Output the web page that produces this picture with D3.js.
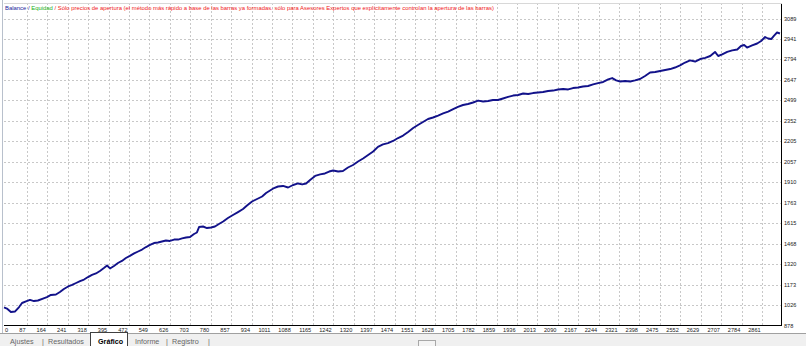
<!DOCTYPE html>
<html>
<head>
<meta charset="utf-8">
<script src="https://cdn.jsdelivr.net/npm/d3@7/dist/d3.min.js"></script>
<style>
  html, body { margin: 0; padding: 0; background: #ffffff; }
  svg { display: block; }
</style>
</head>
<body>
<svg id="chart" width="806" height="346"></svg>
<script>
// ---- data ----
const tradeIdx = [0,11,26,42,57,68,83,98,113,128,147,162,177,196,211,226,242,257,272,287,302,317,332,347,362,377,389,400,415,430,445,460,475,491,506,521,536,551,566,581,596,611,626,642,657,672,687,702,717,728,736,751,766,781,796,811,827,845,864,883,902,917,936,955,974,989,1004,1019,1034,1053,1072,1091,1110,1125,1140,1155,1174,1193,1211,1227,1242,1261,1279,1298,1317,1336,1355,1374,1393,1411,1430,1449,1468,1487,1506,1525,1544,1562,1581,1600,1619,1638,1657,1676,1695,1713,1732,1751,1770,1789,1808,1827,1845,1864,1883,1902,1921,1940,1959,1978,1996,2015,2034,2053,2072,2091,2110,2129,2147,2166,2185,2204,2223,2242,2261,2280,2295,2310,2325,2344,2363,2381,2400,2419,2438,2457,2476,2495,2514,2532,2551,2570,2589,2608,2627,2646,2665,2683,2695,2710,2729,2748,2767,2781,2793,2804,2823,2842,2857,2872,2883,2895,2906,2917,2928];
const balance = [1008,1000,975,979,1011,1040,1051,1062,1054,1058,1072,1083,1098,1101,1119,1141,1159,1170,1184,1198,1209,1227,1242,1253,1271,1292,1310,1289,1307,1328,1343,1364,1379,1397,1411,1425,1443,1458,1472,1476,1483,1490,1487,1497,1497,1505,1512,1515,1537,1548,1587,1591,1580,1584,1591,1609,1627,1652,1674,1695,1717,1742,1771,1789,1807,1832,1850,1868,1879,1883,1872,1890,1901,1894,1901,1926,1955,1966,1973,1987,1994,1987,1991,2016,2034,2059,2081,2106,2131,2164,2182,2192,2207,2228,2246,2272,2300,2322,2344,2365,2376,2390,2405,2419,2437,2452,2466,2473,2484,2498,2491,2495,2502,2502,2513,2524,2534,2538,2549,2545,2552,2556,2560,2567,2570,2578,2581,2578,2588,2592,2599,2603,2614,2624,2632,2650,2660,2643,2635,2639,2635,2643,2653,2675,2700,2704,2711,2718,2725,2736,2751,2772,2787,2779,2797,2805,2819,2848,2819,2830,2848,2859,2866,2891,2898,2880,2895,2909,2927,2956,2945,2941,2966,2988,2981];
const xTicks = [0,87,164,241,318,395,472,549,626,703,780,857,934,1011,1088,1165,1242,1320,1397,1474,1551,1628,1705,1782,1859,1936,2013,2090,2167,2244,2321,2398,2475,2552,2629,2707,2784,2861];
const yTicks = [878,1026,1173,1320,1468,1615,1763,1910,2057,2205,2352,2499,2647,2794,2941,3089];
const tabs = ["Ajustes","Resultados","Gráfico","Informe","Registro"];
const headerParts = [
  {text:"Balance", color:"#1c1c9c"},
  {text:" / ", color:"#1c1c9c"},
  {text:"Equidad", color:"#22b022"},
  {text:" / Sólo precios de apertura (el método más rápido a base de las barras ya formadas. sólo para Asesores Expertos que explícitamente controlan la apertura de las barras)", color:"#f02020"}
];

// ---- layout ----
const svg = d3.select("#chart");
const L = 4, R = 781, T = 3, B = 325.5;
const x = d3.scaleLinear().domain([0, 2932]).range([L, R]);
const y = d3.scaleLinear().domain([878, 3089]).range([B, 18.5]);

svg.append("rect").attr("x",0).attr("y",0).attr("width",806).attr("height",346).attr("fill","#ffffff");

// grid
const grid = svg.append("g").attr("stroke","#c8c8c8").attr("stroke-width",1).attr("stroke-dasharray","2,2").attr("shape-rendering","crispEdges");
grid.selectAll("line.v").data(xTicks.slice(1)).join("line")
  .attr("x1", d => Math.round(x(d))+0.5).attr("x2", d => Math.round(x(d))+0.5)
  .attr("y1", T).attr("y2", B);
grid.selectAll("line.h").data(yTicks.slice(1)).join("line")
  .attr("y1", d => Math.round(y(d))+0.5).attr("y2", d => Math.round(y(d))+0.5)
  .attr("x1", L).attr("x2", R);

// frame
svg.append("line").attr("x1",2.5).attr("x2",2.5).attr("y1",0).attr("y2",333).attr("stroke","#b8c0cc").attr("stroke-width",1);
svg.append("line").attr("x1",R+0.5).attr("x2",R+0.5).attr("y1",T).attr("y2",B+0.5).attr("stroke","#000").attr("stroke-width",1);
svg.append("line").attr("x1",L).attr("x2",R+1).attr("y1",B).attr("y2",B).attr("stroke","#000").attr("stroke-width",1);
svg.append("line").attr("x1",L).attr("x2",R+1).attr("y1",T+0.5).attr("y2",T+0.5).attr("stroke","#d8d8d8").attr("stroke-width",1);

// line
const data = tradeIdx.map((t,i)=>({t, v: balance[i]}));
svg.append("path").datum(data)
  .attr("fill","none").attr("stroke","#12128a").attr("stroke-width",1.9).attr("stroke-linejoin","round")
  .attr("d", d3.line().x(d=>x(d.t)).y(d=>y(d.v)));

// y labels
const font = "'Liberation Sans', Arial, sans-serif";
svg.append("g").selectAll("text").data(yTicks).join("text")
  .attr("x", 784).attr("y", d => y(d)+2)
  .attr("font-family", font).attr("font-size", 5.6).attr("fill","#222")
  .text(d => d);

// x labels
svg.append("g").selectAll("text").data(xTicks).join("text")
  .attr("x", (d,i) => i===0 ? 5 : x(d)-1.5).attr("y", 332)
  .attr("text-anchor", (d,i) => i===0 ? "start" : "end")
  .attr("font-family", font).attr("font-size", 5.6).attr("fill","#222")
  .text(d => d);

// header
const ht = svg.append("text").attr("x",5).attr("y",9.5).attr("font-family",font).attr("font-size",5.9);
headerParts.forEach(p => ht.append("tspan").attr("fill",p.color).text(p.text));

// tab bar
svg.append("rect").attr("x",0).attr("y",333).attr("width",806).attr("height",13).attr("fill","#f0f0f0");
svg.append("line").attr("x1",0).attr("x2",806).attr("y1",333.5).attr("y2",333.5).attr("stroke","#a0a0a0");
svg.append("rect").attr("x",90.5).attr("y",332.5).attr("width",37).attr("height",14).attr("fill","#ffffff").attr("stroke","#404040");
svg.append("rect").attr("x",418.5).attr("y",340.5).attr("width",17).attr("height",8).attr("fill","#f4f4f4").attr("stroke","#a8a8a8");
const tabX = [10, 48, 98, 135, 172];
const tabG = svg.append("g").attr("font-family", font).attr("font-size", 7.2);
tabs.forEach((t,i) => {
  tabG.append("text").attr("x", tabX[i]).attr("y", 343.5)
    .attr("fill", i===2 ? "#000" : "#666").attr("font-weight", i===2 ? "bold" : "normal").text(t);
});
[42, 166, 208].forEach(px => tabG.append("text").attr("x", px).attr("y", 343.5).attr("fill","#666").text("|"));
</script>
</body>
</html>
